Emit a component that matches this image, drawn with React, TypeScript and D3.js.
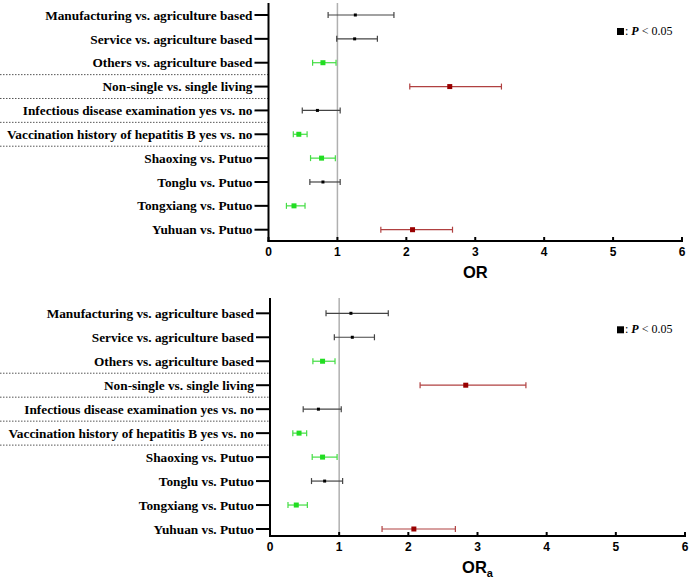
import React from "react";
import * as d3 from "d3";

const categories = [
  "Manufacturing vs. agriculture based",
  "Service vs. agriculture based",
  "Others vs. agriculture based",
  "Non-single vs. single living",
  "Infectious disease examination yes vs. no",
  "Vaccination history of hepatitis B yes vs. no",
  "Shaoxing vs. Putuo",
  "Tonglu vs. Putuo",
  "Tongxiang vs. Putuo",
  "Yuhuan vs. Putuo",
];
// significance: 0 = n.s., 1 = protective (green), 2 = risk (red)
const significance = [0, 0, 1, 2, 0, 1, 1, 0, 1, 2];

const orValue = [1.26, 1.25, 0.79, 2.63, 0.71, 0.44, 0.77, 0.79, 0.37, 2.09];
const orLow = [0.865, 0.99, 0.64, 2.05, 0.49, 0.36, 0.61, 0.6, 0.26, 1.63];
const orHigh = [1.82, 1.58, 0.98, 3.38, 1.04, 0.56, 0.97, 1.04, 0.53, 2.67];

const oraValue = [1.17, 1.19, 0.76, 2.83, 0.7, 0.42, 0.76, 0.79, 0.38, 2.08];
const oraLow = [0.81, 0.93, 0.62, 2.17, 0.48, 0.33, 0.61, 0.6, 0.26, 1.62];
const oraHigh = [1.71, 1.51, 0.94, 3.7, 1.03, 0.53, 0.97, 1.05, 0.54, 2.68];

const xTicks = [0, 1, 2, 3, 4, 5, 6];
const separatorsAfter = [2, 3, 4, 5];

const pointColor = ["#000000", "#22dd22", "#990000"];
const lineColor = ["#444444", "#44dd44", "#b04040"];

type PanelProps = {
  top: number;
  axisY: number;
  firstRow: number;
  lastRow: number;
  x0: number;
  x6: number;
  values: number[];
  lows: number[];
  highs: number[];
  title: string;
  sub?: string;
};

function Panel(p: PanelProps) {
  const x = d3.scaleLinear().domain([0, 6]).range([p.x0, p.x6]);
  const y = d3.scalePoint<string>().domain(categories).range([p.firstRow, p.lastRow]);
  const step = y.step();
  const cap = 3;
  return (
    <g>
      {separatorsAfter.map((i) => {
        const yy = (y(categories[i]) as number) + step / 2;
        return (
          <line key={"s" + i} x1={0} x2={p.x0} y1={yy} y2={yy} stroke="#555" strokeWidth={1} strokeDasharray="1.5,1.5" />
        );
      })}
      <line x1={x(1)} x2={x(1)} y1={p.top} y2={p.axisY} stroke="#b0b0b0" strokeWidth={1.5} />
      {categories.map((c, i) => {
        const yy = y(c) as number;
        const s = significance[i];
        return (
          <g key={c}>
            <text x={p.x0 - 16} y={yy} dy="0.35em" textAnchor="end" fontFamily="'Liberation Serif', serif" fontWeight="bold" fontSize={13.3}>
              {c}
            </text>
            <line x1={p.x0 - 14} x2={p.x0} y1={yy} y2={yy} stroke="#000" strokeWidth={2} />
            <line x1={x(p.lows[i])} x2={x(p.highs[i])} y1={yy} y2={yy} stroke={lineColor[s]} strokeWidth={1.2} />
            <line x1={x(p.lows[i])} x2={x(p.lows[i])} y1={yy - cap} y2={yy + cap} stroke={lineColor[s]} strokeWidth={1.2} />
            <line x1={x(p.highs[i])} x2={x(p.highs[i])} y1={yy - cap} y2={yy + cap} stroke={lineColor[s]} strokeWidth={1.2} />
            {s === 0 ? (
              <rect x={x(p.values[i]) - 1.5} y={yy - 1.5} width={3} height={3} fill={pointColor[s]} />
            ) : (
              <rect x={x(p.values[i]) - 2.5} y={yy - 2.5} width={5} height={5} fill={pointColor[s]} />
            )}
          </g>
        );
      })}
      <line x1={p.x0} x2={p.x0} y1={p.top} y2={p.axisY + 1} stroke="#000" strokeWidth={2} />
      <line x1={p.x0 - 1} x2={p.x6 + 1} y1={p.axisY} y2={p.axisY} stroke="#000" strokeWidth={2} />
      {xTicks.map((t) => (
        <g key={t}>
          <line x1={x(t)} x2={x(t)} y1={p.axisY - 4} y2={p.axisY} stroke="#000" strokeWidth={2} />
          <text x={x(t)} y={p.axisY + 15} textAnchor="middle" fontFamily="'Liberation Sans', Arial, sans-serif" fontWeight="bold" fontSize={12}>
            {t}
          </text>
        </g>
      ))}
      <text x={(p.x0 + p.x6) / 2} y={p.axisY + 37} textAnchor="middle" fontFamily="'Liberation Sans', Arial, sans-serif" fontWeight="bold" fontSize={16.5}>
        {p.title}
        {p.sub ? (
          <tspan fontSize={11} dy={4}>
            {p.sub}
          </tspan>
        ) : null}
      </text>
      <g transform={`translate(617, ${p.firstRow + 20})`}>
        <rect x={0} y={-7} width={7} height={7} fill="#000" />
        <text x={8} y={0} fontFamily="'Liberation Serif', serif" fontSize={12}>
          :{" "}
          <tspan fontStyle="italic" fontWeight="bold">P</tspan> {"< 0.05"}
        </text>
      </g>
    </g>
  );
}

export default function App() {
  return (
    <svg width={690} height={584} style={{ position: "absolute", left: 0, top: 0, background: "#fff" }}>
      <rect width={690} height={584} fill="#fff" />
      <Panel top={3} axisY={241} firstRow={15} lastRow={229.7} x0={268.5} x6={682} values={orValue} lows={orLow} highs={orHigh} title="OR" />
      <Panel top={298} axisY={536} firstRow={313.3} lastRow={529} x0={270} x6={685} values={oraValue} lows={oraLow} highs={oraHigh} title="OR" sub="a" />
    </svg>
  );
}
